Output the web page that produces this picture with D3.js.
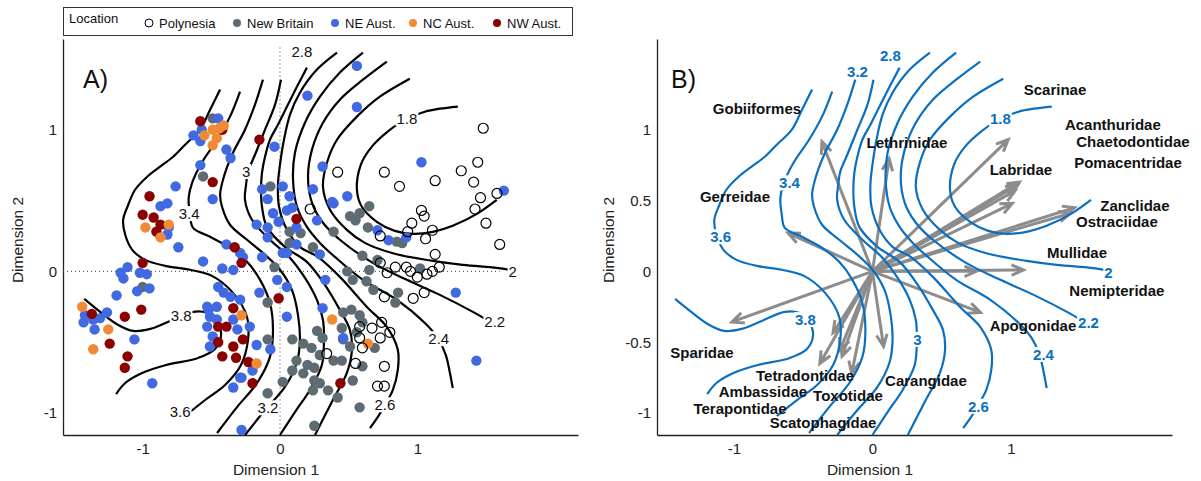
<!DOCTYPE html>
<html>
<head>
<meta charset="utf-8">
<script src="https://cdn.jsdelivr.net/npm/d3@7"></script>
<style>
  body { margin: 0; background: #fff; }
  text { font-family: "Liberation Sans", Arial, sans-serif; }
</style>
</head>
<body>
<svg id="chart" width="1201" height="481"></svg>
<script>
// ---------- Data (ordination units) ----------
const contourLevels = [3.8, 3.6, 3.4, 3.2, 3, 2.8, 2.6, 2.4, 2.2, 2, 1.8];

const c38 = [[-1.425,-0.194],[-1.309,-0.286],[-1.178,-0.378],[-1.069,-0.420],[-0.945,-0.406],[-0.800,-0.350],[-0.633,-0.286],[-0.531,-0.293],[-0.458,-0.357],[-0.429,-0.449],[-0.473,-0.548],[-0.596,-0.611],[-0.829,-0.661],[-1.004,-0.717],[-1.127,-0.788],[-1.193,-0.866]];
const c36 = [[-0.436,1.283],[-0.509,1.141],[-0.582,1.0],[-0.691,0.894],[-0.778,0.809],[-0.873,0.739],[-0.967,0.668],[-1.055,0.576],[-1.105,0.47],[-1.142,0.364],[-1.127,0.258],[-1.076,0.152],[-0.982,0.081],[-0.836,0.039],[-0.655,0.011],[-0.495,-0.032],[-0.342,-0.152],[-0.24,-0.322],[-0.233,-0.484],[-0.284,-0.661],[-0.4,-0.802],[-0.545,-0.908],[-0.691,-1.021]];
const c34 = [[-0.291,1.269],[-0.364,1.092],[-0.458,0.929],[-0.570,0.767],[-0.640,0.625],[-0.665,0.519],[-0.655,0.399],[-0.633,0.307],[-0.509,0.244],[-0.364,0.166],[-0.240,0.067],[-0.145,-0.060],[-0.073,-0.223],[-0.051,-0.413],[-0.073,-0.604],[-0.167,-0.788],[-0.313,-0.958],[-0.458,-1.141]];
const c32 = [[-0.124,1.353],[-0.182,1.177],[-0.255,1.0],[-0.349,0.823],[-0.415,0.647],[-0.436,0.541],[-0.422,0.456],[-0.364,0.329],[-0.240,0.223],[-0.109,0.117],[0.0,0.011],[0.087,-0.131],[0.131,-0.307],[0.145,-0.484],[0.124,-0.640],[0.036,-0.816],[-0.109,-0.979],[-0.255,-1.155]];
const c30 = [[0.007,1.353],[-0.036,1.177],[-0.109,1.0],[-0.182,0.823],[-0.233,0.703],[-0.247,0.611],[-0.255,0.505],[-0.204,0.364],[-0.073,0.223],[0.073,0.095],[0.182,-0.046],[0.269,-0.201],[0.313,-0.343],[0.320,-0.484],[0.305,-0.661],[0.218,-0.837],[0.109,-0.993],[0.0,-1.155]];
const c28 = [[0.196,1.438],[0.124,1.304],[0.051,1.163],[-0.015,1.035],[-0.073,0.929],[-0.109,0.809],[-0.131,0.696],[-0.138,0.576],[-0.131,0.456],[-0.095,0.314],[0.036,0.173],[0.196,0.067],[0.327,-0.095],[0.436,-0.272],[0.509,-0.413],[0.524,-0.555],[0.487,-0.717],[0.385,-0.908],[0.255,-1.155]];
const c26 = [[0.415,1.544],[0.269,1.424],[0.145,1.261],[0.073,1.106],[0.029,0.929],[0.0,0.753],[-0.015,0.611],[-0.007,0.456],[0.051,0.293],[0.145,0.173],[0.276,0.102],[0.436,-0.039],[0.633,-0.251],[0.778,-0.392],[0.858,-0.555],[0.858,-0.696],[0.822,-0.837],[0.764,-0.943],[0.698,-1.049],[0.655,-1.106]];
const c24 = [[0.604,1.544],[0.436,1.403],[0.291,1.233],[0.182,1.049],[0.109,0.837],[0.095,0.647],[0.124,0.456],[0.196,0.314],[0.291,0.201],[0.400,0.102],[0.604,-0.060],[0.851,-0.201],[1.055,-0.364],[1.149,-0.470],[1.207,-0.590],[1.236,-0.710],[1.258,-0.823]];
const c22 = [[0.778,1.481],[0.604,1.353],[0.436,1.212],[0.313,1.049],[0.233,0.859],[0.204,0.668],[0.233,0.484],[0.313,0.343],[0.436,0.223],[0.676,0.060],[0.924,-0.060],[1.164,-0.166],[1.418,-0.293],[1.542,-0.364]];
const c20 = [[0.945,1.360],[0.727,1.233],[0.560,1.092],[0.415,0.929],[0.342,0.767],[0.313,0.597],[0.364,0.435],[0.487,0.293],[0.618,0.201],[0.836,0.124],[1.113,0.074],[1.331,0.046],[1.578,0.025],[1.673,0.011]];
const c18 = [[1.295,1.163],[1.164,1.148],[1.055,1.127],[0.924,1.078],[0.793,0.993],[0.669,0.880],[0.589,0.753],[0.560,0.576],[0.596,0.456],[0.705,0.350],[0.836,0.286],[0.967,0.265],[1.113,0.279],[1.258,0.322],[1.433,0.406],[1.578,0.505]];
const contourPaths = [c38, c36, c34, c32, c30, c28, c26, c24, c22, c20, c18];

// contour label positions [level, x, y]
const contourLabelsA = [[2.8,0.16,1.551],[1.8,0.924,1.078],[3,-0.247,0.703],[3.4,-0.662,0.406],[2,1.695,-0.004],[3.8,-0.72,-0.314],[2.2,1.564,-0.357],[2.4,1.156,-0.477],[3.6,-0.727,-0.993],[3.2,-0.087,-0.965],[2.6,0.764,-0.943]];
const contourLabelsB = [[2.8,0.13,1.525],[3.2,-0.108,1.412],[1.8,0.924,1.074],[3.4,-0.599,0.623],[3.6,-1.097,0.243],[2,1.704,-0.011],[2.2,1.56,-0.363],[3.8,-0.484,-0.342],[3,0.325,-0.482],[2.4,1.235,-0.588],[2.6,0.765,-0.954]];

// site scores by location
const polynesia = [[0.42,0.70],[0.76,0.70],[1.48,1.01],[1.44,0.77],[1.32,0.71],[0.87,0.60],[1.13,0.64],[1.41,0.63],[1.58,0.55],[1.46,0.52],[1.42,0.44],[1.50,0.34],[1.03,0.43],[1.05,0.39],[0.96,0.34],[0.93,0.28],[1.11,0.29],[1.06,0.23],[1.60,0.19],[0.73,0.25],[0.22,0.44],[1.13,0.12],[0.73,0.06],[0.84,0.03],[0.78,-0.01],[0.92,0.03],[0.95,0.00],[1.00,-0.04],[1.07,-0.02],[1.11,0.00],[1.16,0.03],[0.76,-0.18],[0.97,-0.19],[1.05,-0.15],[0.58,-0.39],[0.67,-0.40],[0.74,-0.36],[0.80,-0.43],[0.58,-0.47],[0.73,-0.47],[0.60,-0.54],[0.34,-0.58],[0.55,-0.65],[0.76,-0.67],[0.71,-0.81],[0.76,-0.81]];
const newBritain = [[-0.49,1.08],[-0.56,0.67],[-1.00,-0.11],[-0.07,0.60],[0.58,0.41],[0.65,0.46],[0.55,0.36],[0.64,0.31],[0.51,0.39],[0.39,0.28],[0.07,0.28],[0.15,0.27],[0.07,0.20],[0.24,0.17],[0.85,0.21],[0.89,0.20],[0.60,0.11],[0.71,0.08],[0.65,0.01],[0.49,0.00],[0.53,-0.06],[0.63,-0.07],[1.02,0.02],[-0.04,0.03],[0.68,-0.13],[0.86,-0.15],[0.84,-0.22],[0.52,-0.27],[0.46,-0.29],[0.58,-0.31],[-0.09,-0.22],[0.27,-0.42],[0.31,-0.47],[0.45,-0.40],[0.60,-0.36],[0.56,-0.43],[0.46,-0.48],[0.51,-0.53],[0.09,-0.48],[0.17,-0.51],[0.23,-0.54],[0.69,-0.54],[-0.09,-0.48],[0.12,-0.63],[0.20,-0.66],[0.29,-0.59],[0.39,-0.63],[0.45,-0.63],[0.60,-0.67],[0.25,-0.68],[0.17,-0.72],[0.09,-0.70],[0.02,-0.78],[0.25,-0.77],[0.29,-0.79],[0.24,-0.84],[0.35,-0.84],[0.42,-0.89],[0.53,-0.77],[-0.09,-0.86],[0.58,-0.96],[0.25,-1.09]];
const neAust = [[-0.45,1.08],[-0.63,0.96],[-0.57,1.00],[-0.58,0.92],[-0.39,0.86],[-0.36,0.80],[-0.58,0.75],[-0.76,0.60],[-0.49,0.51],[-0.87,0.46],[-0.82,0.48],[-0.81,0.31],[-0.82,0.26],[-0.74,0.17],[0.20,1.24],[0.56,1.45],[0.56,1.16],[-0.04,0.88],[0.02,0.60],[0.31,0.74],[-0.13,0.58],[0.07,0.53],[-0.09,0.51],[0.24,0.58],[0.39,0.48],[-0.05,0.41],[-0.01,0.35],[0.05,0.43],[0.09,0.45],[0.12,0.31],[-0.17,0.33],[-0.09,0.31],[0.27,0.36],[0.12,0.19],[0.05,0.13],[-0.09,0.24],[-0.56,0.07],[-0.42,0.02],[-0.34,0.01],[-0.27,0.10],[-0.13,0.10],[-0.02,-0.06],[0.05,-0.11],[-0.15,-0.15],[-0.45,-0.11],[-0.41,-0.15],[-0.46,-0.25],[-0.53,-0.25],[-0.51,-0.32],[-0.36,-0.18],[-0.29,-0.20],[0.05,-0.32],[-0.53,-0.39],[-0.49,-0.46],[-0.22,-0.39],[-0.17,-0.52],[-0.07,-0.55],[-0.28,-0.75],[0.31,-0.26],[-0.28,-1.12],[0.33,-0.06],[1.03,0.77],[1.63,0.57],[0.49,0.53],[0.38,0.49],[0.71,0.29],[0.79,0.22],[0.92,0.24],[0.29,0.12],[0.02,0.13],[1.28,-0.15],[0.46,-0.47],[1.43,-0.63],[-0.39,0.19],[-0.29,0.13],[-1.11,0.03],[-1.16,-0.01],[-1.14,-0.05],[-1.02,-0.01],[-0.97,-0.02],[-0.95,-0.12],[-1.04,-0.14],[-1.19,-0.17],[-1.42,-0.31],[-1.43,-0.36],[-1.36,-0.34],[-1.31,-0.33],[-1.26,-0.29],[-1.35,-0.41],[-1.06,-0.48],[-0.93,-0.79],[-0.52,-0.27],[-0.46,-0.34],[-0.34,-0.34],[-0.31,-0.41],[-0.51,-0.53],[-0.20,-0.70],[-0.29,-0.75],[-0.34,-0.82]];
const ncAust = [[-0.55,0.96],[-0.49,1.00],[-0.44,1.01],[-0.41,1.03],[-0.46,0.94],[-0.49,0.89],[-0.98,0.31],[-0.87,0.24],[-0.81,0.33],[-0.28,-0.31],[-0.17,-0.65],[0.38,-0.34],[0.64,-0.51],[-1.44,-0.25],[-1.25,-0.41],[-1.36,-0.55]];
const nwAust = [[-0.58,1.06],[-0.42,1.00],[-0.15,0.93],[-0.49,0.63],[-0.95,0.53],[-1.00,0.40],[-0.92,0.38],[-0.87,0.33],[-0.90,0.28],[0.12,0.37],[-0.33,0.17],[-0.28,0.06],[-0.01,-0.19],[-0.34,-0.26],[-0.45,-0.39],[-0.39,-0.39],[-0.45,-0.50],[-0.34,-0.53],[-0.27,-0.48],[-0.42,-0.60],[-0.32,-0.61],[-0.23,-0.64],[0.44,-0.79],[-1.00,0.06],[-1.37,-0.30],[-1.24,-0.51],[-1.13,-0.32],[-1.01,-0.27],[-1.11,-0.60],[-1.13,-0.68],[-0.20,-0.79]];

// taxa vectors (panel B)
const taxa = ["Gobiiformes","Gerreidae","Lethrinidae","Scarinae","Acanthuridae","Chaetodontidae","Pomacentridae","Labridae","Zanclidae","Ostraciidae","Mullidae","Nemipteridae","Apogonidae","Carangidae","Tetradontidae","Ambassidae","Terapontidae","Toxotidae","Scatophagidae","Sparidae"];
const taxaX = [-0.365,-0.61,0.12,0.98,1.05,1.03,1.01,1.06,1.46,1.43,1.09,0.75,0.78,0.08,-0.285,-0.38,-0.235,-0.15,-0.22,-1.015];
const taxaY = [0.915,0.27,0.795,0.93,0.61,0.57,0.48,0.63,0.45,0.41,0.01,0.0,-0.29,-0.53,-0.435,-0.65,-0.555,-0.72,-0.60,-0.357];
const taxaLabelX = [-0.834,-0.993,0.249,1.318,1.736,1.881,1.845,1.072,1.895,1.765,1.477,1.765,1.159,0.386,-0.487,-0.791,-0.957,-0.177,-0.357,-1.231];
const taxaLabelY = [1.148,0.526,0.908,1.283,1.035,0.915,0.767,0.717,0.463,0.35,0.131,-0.138,-0.385,-0.774,-0.739,-0.852,-0.972,-0.880,-1.071,-0.576];

const xTicks = [-1, 0, 1];
const yTicksA = [-1, 0, 1];
const yTicksB = [-1, -0.5, 0, 0.5, 1];

const locations = ["Polynesia", "New Britain", "NE Aust.", "NC Aust.", "NW Aust."];
const locationColors = ["none", "#5f6b73", "#4169e1", "#f28a35", "#8b0000"];

// ---------- Setup ----------
const svg = d3.select('#chart');
const blue = '#0a6fc0';

const y = d3.scaleLinear().domain([-1.155, 1.64]).range([435, 39]);
const xA = d3.scaleLinear().domain([-1.58, 2.17]).range([63, 578]);
const xB = d3.scaleLinear().domain([-1.556, 2.163]).range([657, 1172]);

const fmt = d => String(d);

function drawAxes(x, yTicks, xTitle, yTitleX, letter, letterX) {
    const xAxis = d3.axisBottom(x).tickValues(xTicks).tickSize(0).tickSizeOuter(0).tickPadding(8).tickFormat(fmt);
    const yAxis = d3.axisLeft(y).tickValues(yTicks).tickSize(0).tickSizeOuter(0).tickPadding(6).tickFormat(fmt);

    const gx = svg.append('g').attr('transform', `translate(0,${y.range()[0]})`).call(xAxis);
    const gy = svg.append('g').attr('transform', `translate(${x.range()[0]},0)`).call(yAxis);
    [gx, gy].forEach(g => {
        g.select('.domain').attr('stroke', '#222').attr('stroke-width', 1.3);
        g.selectAll('text').attr('font-size', 15).attr('fill', '#222')
            .attr('font-family', '"Liberation Sans", Arial, sans-serif');
    });

    svg.append('text').attr('x', xTitle).attr('y', 475)
        .attr('text-anchor', 'middle').attr('font-size', 15.5).attr('fill', '#222')
        .text('Dimension 1');
    svg.append('text')
        .attr('transform', `translate(${yTitleX},240) rotate(-90)`)
        .attr('text-anchor', 'middle').attr('dy', '0.35em')
        .attr('font-size', 15.5).attr('fill', '#222')
        .text('Dimension 2');
    svg.append('text').attr('x', letterX).attr('y', 88)
        .attr('font-size', 25).attr('fill', '#111').text(letter);
}

function drawContours(x, color) {
    const line = d3.line().x(d => x(d[0])).y(d => y(d[1])).curve(d3.curveCatmullRom.alpha(0.5));
    svg.append('g').selectAll('path')
        .data(contourPaths)
        .enter().append('path')
        .attr('d', line)
        .attr('fill', 'none')
        .attr('stroke', color)
        .attr('stroke-width', 2.2);
}

function drawContourLabels(x, labels, color, weight) {
    const g = svg.append('g');
    labels.forEach(([lev, lx, ly]) => {
        const t = g.append('text')
            .attr('x', x(lx)).attr('y', y(ly)).attr('dy', '0.35em')
            .attr('text-anchor', 'middle')
            .attr('font-size', 15).attr('font-weight', weight)
            .attr('fill', color)
            .text(fmt(lev));
        const b = t.node().getBBox();
        g.insert('rect', () => t.node())
            .attr('x', b.x - 1).attr('y', b.y + 1)
            .attr('width', b.width + 2).attr('height', b.height - 2)
            .attr('fill', '#fff');
    });
}

// ---------- Panel A ----------
drawAxes(xA, yTicksA, 276, 18, 'A)', 83);

// dotted reference lines at zero
svg.append('line')
    .attr('x1', xA(-1.58)).attr('x2', xA(1.6)).attr('y1', y(0)).attr('y2', y(0))
    .attr('stroke', '#444').attr('stroke-width', 1).attr('stroke-dasharray', '1,3');
svg.append('line')
    .attr('x1', xA(0)).attr('x2', xA(0)).attr('y1', y(1.58)).attr('y2', y(-1.155))
    .attr('stroke', '#444').attr('stroke-width', 1).attr('stroke-dasharray', '1,3');

drawContours(xA, '#000');
drawContourLabels(xA, contourLabelsA, '#111', 'normal');

const pointSets = [
    { data: newBritain, color: locationColors[1] },
    { data: neAust, color: locationColors[2] },
    { data: nwAust, color: locationColors[4] },
    { data: ncAust, color: locationColors[3] },
];
pointSets.forEach(s => {
    svg.append('g').selectAll('circle')
        .data(s.data)
        .enter().append('circle')
        .attr('cx', d => xA(d[0])).attr('cy', d => y(d[1]))
        .attr('r', 5.2)
        .attr('fill', s.color);
});
svg.append('g').selectAll('circle')
    .data(polynesia)
    .enter().append('circle')
    .attr('cx', d => xA(d[0])).attr('cy', d => y(d[1]))
    .attr('r', 5)
    .attr('fill', 'none')
    .attr('stroke', '#000')
    .attr('stroke-width', 1.2);

// Legend
const legend = svg.append('g');
legend.append('rect').attr('x', 63.5).attr('y', 7.5).attr('width', 509).attr('height', 28)
    .attr('fill', '#fff').attr('stroke', '#333').attr('stroke-width', 1);
legend.append('text').attr('x', 69).attr('y', 23).attr('font-size', 13).attr('fill', '#111').text('Location');
const legendX = [149, 237, 335, 413, 497];
locations.forEach((loc, i) => {
    legend.append('circle').attr('cx', legendX[i]).attr('cy', 23).attr('r', 4)
        .attr('fill', i === 0 ? '#fff' : locationColors[i])
        .attr('stroke', i === 0 ? '#000' : 'none').attr('stroke-width', 1);
    legend.append('text').attr('x', legendX[i] + 10).attr('y', 27.5)
        .attr('font-size', 13).attr('fill', '#111').text(loc);
});

// ---------- Panel B ----------
drawAxes(xB, yTicksB, 870, 609, 'B)', 671);

// arrows
const arrowG = svg.append('g');
taxa.forEach((name, i) => {
    const x0 = xB(0), y0 = y(0);
    const x1 = xB(taxaX[i]), y1 = y(taxaY[i]);
    const ang = Math.atan2(y1 - y0, x1 - x0);
    const len = 13, spread = 0.42;
    const ax1 = x1 - len * Math.cos(ang - spread), ay1 = y1 - len * Math.sin(ang - spread);
    const ax2 = x1 - len * Math.cos(ang + spread), ay2 = y1 - len * Math.sin(ang + spread);
    arrowG.append('path')
        .attr('d', `M${x0},${y0}L${x1},${y1}M${ax1},${ay1}L${x1},${y1}L${ax2},${ay2}`)
        .attr('fill', 'none')
        .attr('stroke', '#8c8c8c')
        .attr('stroke-width', 3);
});

drawContours(xB, blue);
drawContourLabels(xB, contourLabelsB, blue, 'bold');

svg.append('g').selectAll('text')
    .data(taxa)
    .enter().append('text')
    .attr('x', (d, i) => xB(taxaLabelX[i]))
    .attr('y', (d, i) => y(taxaLabelY[i]))
    .attr('dy', '0.35em')
    .attr('text-anchor', 'middle')
    .attr('font-size', 15)
    .attr('font-weight', 'bold')
    .attr('fill', '#111')
    .text(d => d);
</script>
</body>
</html>
